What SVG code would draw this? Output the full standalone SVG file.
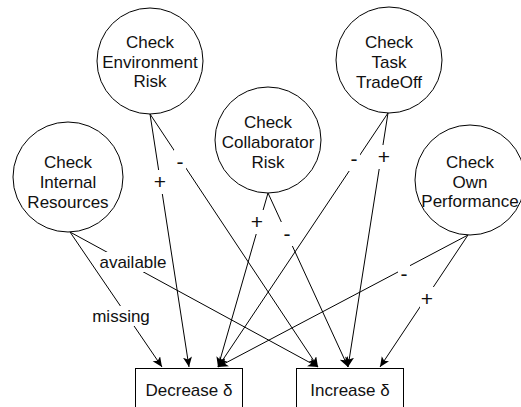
<svg xmlns="http://www.w3.org/2000/svg" width="521" height="407" viewBox="0 0 521 407">
<style>
.node circle{fill:#fff;stroke:#000;stroke-width:1}
.node rect{fill:#fff;stroke:#000;stroke-width:1}
text{font-family:"Liberation Sans",Arial,sans-serif;font-size:17px;fill:#111;text-anchor:middle}
.edge{stroke:#000;stroke-width:1;fill:none;marker-end:url(#arr)}
.lbl rect{fill:#fff;stroke:none}
.sg{font-size:21px}
</style>
<defs>
<marker id="arr" markerUnits="userSpaceOnUse" markerWidth="12" markerHeight="10" refX="10" refY="4.5" orient="auto">
<path d="M0,0 L10,4.5 L0,9 L2.5,4.5 z" fill="#000"/>
</marker>
</defs>
<rect width="521" height="407" fill="#fff"/>
<g id="connectors">
<line class="edge" x1="70" y1="232" x2="318" y2="367"/>
<line class="edge" x1="70" y1="232" x2="162" y2="367"/>
<line class="edge" x1="150" y1="114" x2="189" y2="367"/>
<line class="edge" x1="150" y1="114" x2="318" y2="367"/>
<line class="edge" x1="268" y1="193" x2="218" y2="367"/>
<line class="edge" x1="268" y1="193" x2="348" y2="367"/>
<line class="edge" x1="388" y1="113" x2="218" y2="367"/>
<line class="edge" x1="388" y1="113" x2="348" y2="367"/>
<line class="edge" x1="468" y1="235" x2="218" y2="367"/>
<line class="edge" x1="468" y1="235" x2="380" y2="367"/>
<g class="lbl">
<rect x="98" y="252" width="70" height="20"/><text x="133" y="268">available</text>
<rect x="90" y="306" width="62" height="20"/><text x="121" y="322">missing</text>
<rect x="153" y="170" width="14" height="24"/><text class="sg" x="160" y="189">+</text>
<rect x="174" y="150" width="12" height="24"/><text class="sg" x="180" y="169">-</text>
<rect x="250" y="210" width="14" height="24"/><text class="sg" x="257" y="229">+</text>
<rect x="281" y="222" width="12" height="24"/><text class="sg" x="287" y="241">-</text>
<rect x="348" y="147" width="12" height="24"/><text class="sg" x="354" y="166">-</text>
<rect x="377" y="145" width="14" height="24"/><text class="sg" x="384" y="164">+</text>
<rect x="398" y="262" width="12" height="24"/><text class="sg" x="404" y="281">-</text>
<rect x="420" y="287" width="14" height="24"/><text class="sg" x="427" y="306">+</text>
</g>
</g>
<g id="env" class="node"><circle cx="150" cy="61" r="53"/><text x="150" y="48">Check</text><text x="150" y="68">Environment</text><text x="150" y="87">Risk</text></g>
<g id="task" class="node"><circle cx="389" cy="60" r="53"/><text x="389" y="48">Check</text><text x="389" y="68">Task</text><text x="389" y="88">TradeOff</text></g>
<g id="collab" class="node"><circle cx="268" cy="140" r="53"/><text x="268" y="128">Check</text><text x="268" y="148">Collaborator</text><text x="268" y="168">Risk</text></g>
<g id="internal" class="node"><circle cx="68" cy="177" r="55"/><text x="68" y="168">Check</text><text x="68" y="188">Internal</text><text x="68" y="208">Resources</text></g>
<g id="own" class="node"><circle cx="470" cy="180" r="55"/><text x="470" y="168">Check</text><text x="470" y="188">Own</text><text x="470" y="207">Performance</text></g>
<g id="decrease" class="node"><rect x="135.5" y="368.5" width="107" height="50"/><text x="189" y="396">Decrease δ</text></g>
<g id="increase" class="node"><rect x="296.5" y="368.5" width="107" height="50"/><text x="350" y="396">Increase δ</text></g>
</svg>
